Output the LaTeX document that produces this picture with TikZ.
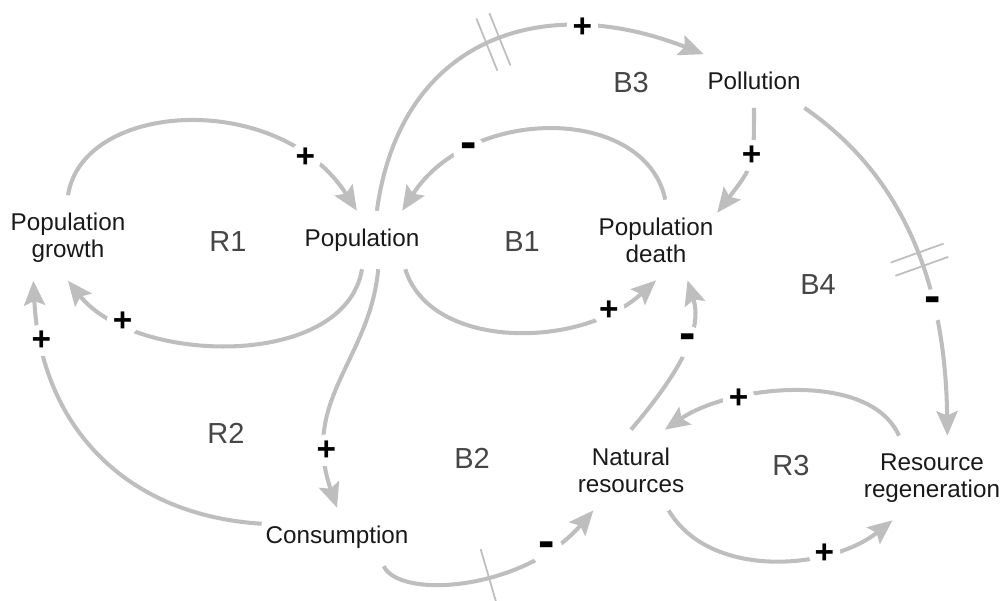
\documentclass[tikz,border=0pt]{standalone}
\usepackage{fontspec}
\setmainfont{Liberation Sans}
\usepackage{xcolor}
\definecolor{cldgray}{RGB}{190,190,190}
\definecolor{cldtext}{RGB}{25,25,25}
\definecolor{cldloop}{RGB}{70,70,70}
\usepackage{tikz}
\usetikzlibrary{arrows.meta, decorations.markings}

\begin{document}
\begin{tikzpicture}[x=0.02cm, y=-0.02cm,
  varnode/.style={font=\fontsize{13.8}{15.4}\selectfont, text=cldtext, align=center, inner xsep=2pt, inner ysep=10pt},
  looplabel/.style={font=\fontsize{16.5}{18}\selectfont, text=cldloop},
  link/.style={draw=cldgray, line width=2.3pt, -{Stealth[length=14pt, width=12pt, inset=2.5pt]}},
  plusmark/.style={circle, fill=white, inner sep=0pt, minimum size=18pt, font=\fontsize{19}{19}\selectfont\bfseries, text=black},
  minusmark/.style={plusmark, font=\fontsize{28}{28}\selectfont\bfseries},
  onedelay/.style={postaction={decorate, decoration={markings, mark=at position #1 with {\draw[-, cldgray, line width=1pt] (0pt,-16pt) -- (0pt,16pt);}}}},
  twodelay/.style={postaction={decorate, decoration={markings, mark=at position #1 with {\draw[-, cldgray, line width=1pt] (-4pt,-16pt) -- (-4pt,16pt) (4pt,-16pt) -- (4pt,16pt);}}}}
]
  \useasboundingbox (0,0) rectangle (1000,601);

  % Variables
  \node[varnode] (pg)  at (68,238)  {Population\\growth};
  \node[varnode] (pop) at (362,240) {Population};
  \node[varnode] (pd)  at (656,240) {Population\\death};
  \node[varnode] (pol) at (754,81)  {Pollution};
  \node[varnode] (con) at (337,537) {Consumption};
  \node[varnode] (nr)  at (631,470) {Natural\\resources};
  \node[varnode] (rr)  at (932,478) {Resource\\regeneration};

  % Loop labels
  \node[looplabel] (r1) at (228,242) {R1};
  \node[looplabel] (b1) at (522,242) {B1};
  \node[looplabel] (b3) at (631,83)  {B3};
  \node[looplabel] (b4) at (818,285) {B4};
  \node[looplabel] (r2) at (226,433) {R2};
  \node[looplabel] (b2) at (472,458) {B2};
  \node[looplabel] (r3) at (791,466) {R3};

  % --- R1 ---
  \draw[link] (pg.north) .. controls (83,100) and (280,90) .. node[plusmark, pos=0.82] (s1) {+} (pop.100);
  \draw[link] (pop.south) .. controls (345,370) and (135,365) .. node[plusmark, pos=0.8] (s2) {+} (pg.south);

  % --- B1 ---
  \draw[link] (pop.-34) .. controls (430,350) and (580,350) .. node[plusmark, pos=0.82] (s3) {+} (pd.south);
  \draw[link] (pd.77) .. controls (645,105) and (470,105) .. node[minusmark, pos=0.75] (s4) {-} (pop.36);

  % --- B3 ---
  \draw[link, twodelay=0.5] (pop.63) .. controls (400,40) and (540,-10) .. node[plusmark, pos=0.74] (s5) {+} (pol.north west);
  \draw[link] (pol.south) .. controls (754,165) .. node[plusmark, pos=0.4] (s6) {+} (pd.24);

  % --- B4 ---
  \draw[link, twodelay=0.52] (pol.south east) .. controls (880,160) and (945,250) .. node[minusmark, pos=0.73] (s7) {-} (rr.70);

  % --- R2 ---
  \draw[link] (pop.-61) .. controls (370,360) and (300,400) .. node[plusmark, pos=0.8] (s8) {+} (con.north);
  \draw[link] (con.170) .. controls (120,515) and (40,420) .. node[plusmark, pos=0.85] (s9) {+} (pg.231);

  % --- B2 ---
  \draw[link, onedelay=0.47] (con.-32) .. controls (400,600) and (525,590) .. node[minusmark, pos=0.8] (s10) {-} (nr.-133);
  \draw[link] (nr.north) .. controls (695,355) and (700,320) .. node[minusmark, pos=0.5] (s11) {-} (pd.-52);

  % --- R3 ---
  \draw[link] (rr.128) .. controls (870,370) and (730,385) .. node[plusmark, pos=0.7] (s12) {+} (nr.50);
  \draw[link] (nr.-47) .. controls (710,580) and (830,570) .. node[plusmark, pos=0.7] (s13) {+} (rr.-133);
\end{tikzpicture}
\end{document}
